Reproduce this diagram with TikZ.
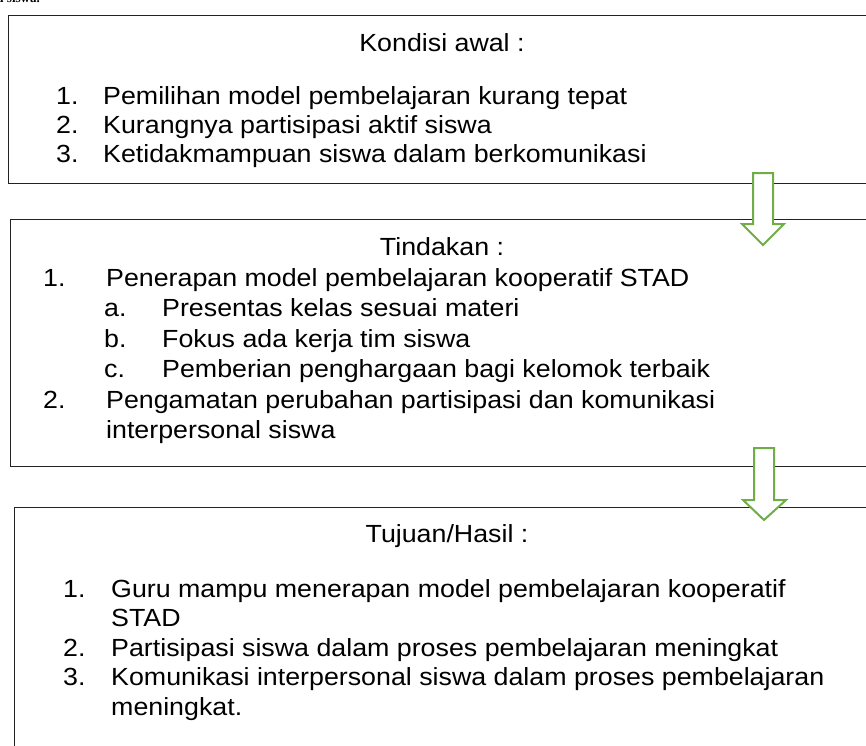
\documentclass[tikz,border=0pt]{standalone}
\usepackage{fontspec}
\setmainfont{Liberation Sans}[FakeStretch=1.08]
\newfontfamily\serifcut{Liberation Serif}
\definecolor{arrowgreen}{HTML}{70AD47}
\definecolor{boxline}{HTML}{222222}
\begin{document}
\begin{tikzpicture}[x=1pt,y=-1pt,
  box/.style={draw=boxline, line width=1.3pt, rectangle, anchor=north west, inner sep=0pt},
  blockarrow/.style={draw=arrowgreen, line width=2pt, fill=white, line join=miter},
  txt/.style={anchor=base west, inner sep=0pt, font=\fontsize{24.8}{28}\selectfont},
  ttl/.style={anchor=base, inner sep=0pt, font=\fontsize{24.8}{28}\selectfont}]
\useasboundingbox (0,0) rectangle (866,745);
% cut-off text at the top
\node[anchor=base west, inner sep=0pt, font=\serifcut\bfseries\fontsize{13}{15}\selectfont] (cut) at (-3,2.5) {a siswa.};
% boxes
\node[box, minimum width=900pt, minimum height=168pt] (b1) at (8,15) {};
\node[box, minimum width=900pt, minimum height=247pt] (b2) at (10,219) {};
\node[box, minimum width=900pt, minimum height=300pt] (b3) at (14,507) {};
% box 1 text
\node[ttl] (t1) at (442,51) {Kondisi awal :};
\node[txt] (n11) at (56,104) {1.};
\node[txt] (l11) at (103,104) {Pemilihan model pembelajaran kurang tepat};
\node[txt] (n12) at (56,133) {2.};
\node[txt] (l12) at (103,133) {Kurangnya partisipasi aktif siswa};
\node[txt] (n13) at (56,162.5) {3.};
\node[txt] (l13) at (103,162.5) {Ketidakmampuan siswa dalam berkomunikasi};
% box 2 text
\node[ttl] (t2) at (442,255) {Tindakan :};
\node[txt] (n21) at (43,286) {1.};
\node[txt] (l21) at (106,286) {Penerapan model pembelajaran kooperatif STAD};
\node[txt] (n2a) at (104,316.5) {a.};
\node[txt] (l2a) at (162,316.5) {Presentas kelas sesuai materi};
\node[txt] (n2b) at (104,347) {b.};
\node[txt] (l2b) at (162,347) {Fokus ada kerja tim siswa};
\node[txt] (n2c) at (104,377.5) {c.};
\node[txt] (l2c) at (162,377.5) {Pemberian penghargaan bagi kelomok terbaik};
\node[txt] (n22) at (43,408) {2.};
\node[txt] (l22) at (106,408) {Pengamatan perubahan partisipasi dan komunikasi};
\node[txt] (l22b) at (106,438.5) {interpersonal siswa};
% box 3 text
\node[ttl] (t3) at (447,542) {Tujuan/Hasil :};
\node[txt] (n31) at (63,597) {1.};
\node[txt] (l31) at (111,597) {Guru mampu menerapan model pembelajaran kooperatif};
\node[txt] (l31b) at (111,626.5) {STAD};
\node[txt] (n32) at (63,656) {2.};
\node[txt] (l32) at (111,656) {Partisipasi siswa dalam proses pembelajaran meningkat};
\node[txt] (n33) at (63,685.5) {3.};
\node[txt] (l33) at (111,685.5) {Komunikasi interpersonal siswa dalam proses pembelajaran};
\node[txt] (l33b) at (111,715) {meningkat.};
% block arrows
\draw[blockarrow] (753,173) -- (773,173) -- (773,224) -- (784,224) -- (763,245) -- (742,224) -- (753,224) -- cycle;
\draw[blockarrow] (754,448) -- (774,448) -- (774,500) -- (786,500) -- (764,520) -- (743,500) -- (754,500) -- cycle;
\end{tikzpicture}
\end{document}
